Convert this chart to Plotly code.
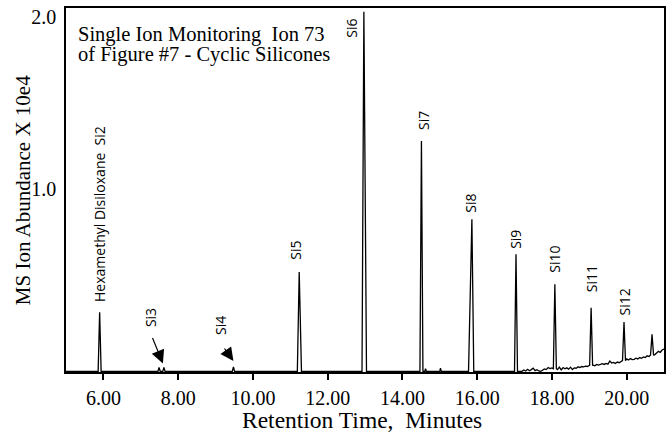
import plotly.graph_objects as go

# ---- Peak table (retention time in minutes, abundance in units of 10e4) ----
peak_rt     = [5.90, 7.49, 7.62, 9.48, 11.24, 12.97, 14.51, 14.62, 15.02, 15.86, 17.04, 18.08, 19.05, 19.93, 20.68]
peak_height = [0.343, 0.022, 0.022, 0.025, 0.577, 2.09, 1.339, 0.016, 0.018, 0.884, 0.680, 0.506, 0.370, 0.287, 0.215]
peak_base   = [0, 0, 0, 0, 0, 0, 0, 0, 0, 0, 0, 0.015, 0.032, 0.062, 0.095]
peak_lead   = [0.04, 0.03, 0.03, 0.03, 0.05, 0.05, 0.04, 0.02, 0.02, 0.09, 0.04, 0.04, 0.04, 0.04, 0.04]
peak_tail   = [0.04, 0.03, 0.03, 0.03, 0.06, 0.07, 0.04, 0.02, 0.02, 0.05, 0.04, 0.04, 0.04, 0.04, 0.04]

# ---- Baseline (flat early, noisy and drifting late in the run) ----
baseline_time = [5.00, 17.15,
                 17.20, 17.25, 17.30, 17.35, 17.40, 17.45, 17.50, 17.55, 17.60, 17.65,
                 17.70, 17.75, 17.80, 17.85, 17.90, 17.95, 18.00, 18.05, 18.10, 18.15,
                 18.20, 18.25, 18.30, 18.35, 18.40, 18.45, 18.50, 18.55, 18.60, 18.65,
                 18.70, 18.75, 18.80, 18.85, 18.90, 18.95, 19.00, 19.05, 19.10, 19.15,
                 19.20, 19.25, 19.30, 19.35, 19.40, 19.45, 19.50, 19.55, 19.60, 19.65,
                 19.70, 19.75, 19.80, 19.85, 19.90, 19.95, 20.00, 20.05, 20.10, 20.15,
                 20.20, 20.25, 20.30, 20.35, 20.40, 20.45, 20.50, 20.55, 20.60, 20.65,
                 20.70, 20.75, 20.80, 20.85, 20.90, 20.95, 21.00]
baseline_value = [0.000, 0.000,
                  0.000, 0.008, 0.002, 0.012, 0.003, 0.010, 0.018, 0.004, 0.009, 0.002,
                  0.000, 0.006, 0.014, 0.010, 0.022, 0.016, 0.020, 0.012, 0.018, 0.010,
                  0.024, 0.008, 0.022, 0.015, 0.020, 0.012, 0.024, 0.010, 0.020, 0.018,
                  0.026, 0.022, 0.028, 0.026, 0.030, 0.028, 0.034, 0.030, 0.036, 0.032,
                  0.040, 0.036, 0.038, 0.044, 0.040, 0.046, 0.042, 0.060, 0.048, 0.052,
                  0.046, 0.054, 0.050, 0.056, 0.058, 0.062, 0.072, 0.066, 0.074, 0.068,
                  0.070, 0.076, 0.072, 0.080, 0.076, 0.084, 0.080, 0.090, 0.086, 0.094,
                  0.100, 0.096, 0.108, 0.116, 0.110, 0.124, 0.130]

# ---- Peak labels ----
label_text = ["Hexamethyl Disiloxane  Si2", "Si3", "Si4", "Si5", "Si6", "Si7",
              "Si8", "Si9", "Si10", "Si11", "Si12"]
label_peak = [0, 1, 3, 4, 5, 6, 9, 10, 11, 12, 13]

x_ticks = [6, 8, 10, 12, 14, 16, 18, 20]
x_tick_text = ["6.00", "8.00", "10.00", "12.00", "14.00", "16.00", "18.00", "20.00"]
y_ticks = [1.0, 2.0]
y_tick_text = ["1.0", "2.0"]

x_title = "Retention Time,  Minutes"
y_title = "MS Ion Abundance X 10e4"
caption = ["Single Ion Monitoring  Ion 73", "of Figure #7 - Cyclic Silicones"]

# ---- Assemble the chromatogram trace ----
pts = list(zip(baseline_time, baseline_value))
for rt, lo, hi in zip(peak_rt, peak_lead, peak_tail):
    pts = [p for p in pts if not (rt - lo <= p[0] <= rt + hi)]
for rt, h, b, lo, hi in zip(peak_rt, peak_height, peak_base, peak_lead, peak_tail):
    pts += [(rt - lo, b), (rt, h), (rt + hi, b)]
pts.sort(key=lambda p: p[0])

fig = go.Figure()
fig.add_trace(go.Scatter(
    x=[p[0] for p in pts], y=[p[1] for p in pts],
    mode="lines", line=dict(color="black", width=1.3),
    hoverinfo="skip", showlegend=False,
))

SANS = "Open Sans"
SERIF = "Liberation Serif"

# plot area in pixels (left, right, top, bottom)
L, R, T, B = 66, 666, 8, 372


def paper_x(px):
    return (px - L) / (R - L)


def paper_y(py):
    return 1 - (py - T) / (B - T)


# per-label placement: (x shift px, gap px between apex and text bottom)
placement = {
    "Hexamethyl Disiloxane  Si2": (0, 8),
    "Si3": (-9, 38),
    "Si4": (-13, 30),
    "Si5": (-4, 10),
    "Si7": (2, 9),
    "Si8": (-1, 5),
    "Si9": (0, 3),
    "Si10": (0, 10),
    "Si11": (0, 13),
    "Si12": (0, 4),
}
annotations = []
for name, idx in zip(label_text, label_peak):
    rt, h = peak_rt[idx], peak_height[idx]
    if name == "Si6":
        annotations.append(dict(x=rt, y=h, xref="x", yref="y", text=name, textangle=-90,
                                showarrow=False, xanchor="right", yanchor="top",
                                xshift=-1, yshift=-5,
                                font=dict(family=SANS, size=14, color="black")))
        continue
    dx, gap = placement[name]
    annotations.append(dict(x=rt, y=h, xref="x", yref="y", text=name, textangle=-90,
                            showarrow=False, xanchor="center", yanchor="bottom",
                            xshift=dx, yshift=gap,
                            font=dict(family=SANS, size=14, color="black")))

# pointer arrows for the two small early peaks
for idx, ax, ay, dx, dy in [(2, -11, -27, -1, 4), (3, -10, -14, 0, 6)]:
    annotations.append(dict(x=peak_rt[idx], y=peak_height[idx], xref="x", yref="y",
                            text="", showarrow=True, arrowhead=2, arrowsize=2.2,
                            arrowwidth=1.2, arrowcolor="black", ax=ax, ay=ay,
                            xshift=dx, yshift=dy, standoff=0))

# caption inside the plot frame
for line, ypx in zip(caption, [35, 54]):
    annotations.append(dict(x=paper_x(76), y=paper_y(ypx), xref="paper", yref="paper",
                            text=line, showarrow=False, xanchor="left", yanchor="middle",
                            font=dict(family=SERIF, size=20.5, color="black")))

# axis titles
annotations.append(dict(x=paper_x(363), y=paper_y(420), xref="paper", yref="paper",
                        text=x_title, showarrow=False, xanchor="center", yanchor="middle",
                        font=dict(family=SERIF, size=23.5, color="black")))
annotations.append(dict(x=paper_x(23), y=paper_y(190), xref="paper", yref="paper",
                        text=y_title, textangle=-90, showarrow=False,
                        xanchor="center", yanchor="middle",
                        font=dict(family=SERIF, size=21, color="black")))

fig.update_layout(
    width=671, height=436,
    margin=dict(l=L, r=671 - R, t=T, b=436 - B),
    paper_bgcolor="white", plot_bgcolor="white",
    annotations=annotations,
    xaxis=dict(
        range=[5.0, 21.0], tickvals=x_ticks, ticktext=x_tick_text,
        ticks="outside", ticklen=6, tickwidth=1.5, tickcolor="black",
        showline=True, linecolor="black", linewidth=1.5, mirror=True,
        showgrid=False, zeroline=False, ticklabelstandoff=1,
        tickfont=dict(family=SERIF, size=20, color="black"),
    ),
    yaxis=dict(
        range=[-0.004, 2.112], tickvals=y_ticks, ticktext=y_tick_text,
        ticks="", ticklabelshift=-10, ticklabelstandoff=4,
        showline=True, linecolor="black", linewidth=1.5, mirror=True,
        showgrid=False, zeroline=False,
        tickfont=dict(family=SERIF, size=20, color="black"),
    ),
)

fig.write_html("out.html")
